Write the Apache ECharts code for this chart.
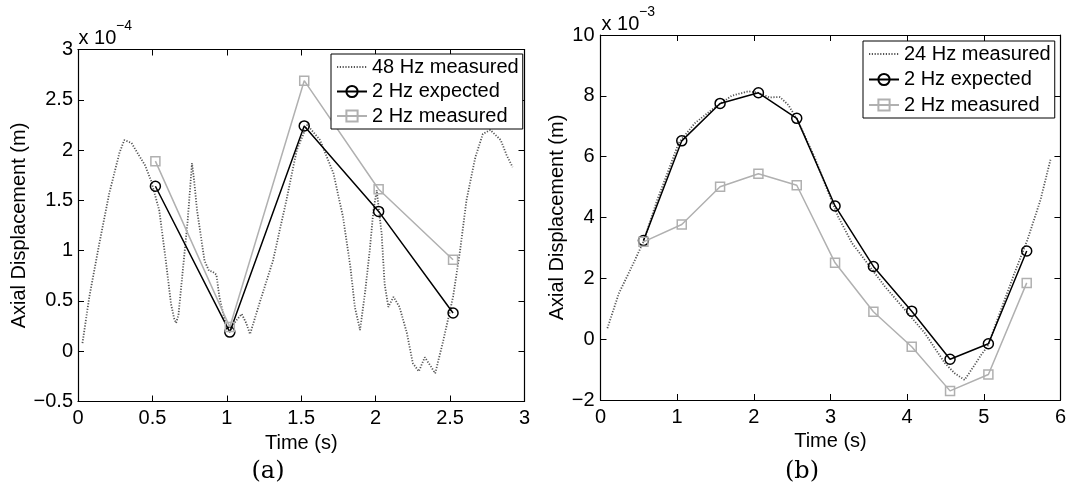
<!DOCTYPE html>
<html><head><meta charset="utf-8">
<script src="https://cdn.jsdelivr.net/npm/echarts@6/dist/echarts.min.js"></script>
<style>html,body{margin:0;padding:0;background:#fff}#c{width:1069px;height:501px}</style>
</head><body><div id="c"></div>
<script>
// ---- Panel (a): values in units of 1e-4 m ----
const aTime48 = [0.03, 0.076, 0.143, 0.21, 0.278, 0.311, 0.36, 0.40, 0.45, 0.49, 0.546, 0.59, 0.625, 0.645, 0.659, 0.675, 0.70, 0.737, 0.766, 0.78, 0.80, 0.85, 0.88, 0.905, 0.93, 0.95, 0.995, 1.02, 1.06, 1.10, 1.13, 1.156, 1.22, 1.31, 1.40, 1.47, 1.54, 1.626, 1.716, 1.78, 1.83, 1.86, 1.895, 1.93, 1.96, 1.985, 2.007, 2.04, 2.06, 2.085, 2.12, 2.16, 2.21, 2.25, 2.29, 2.33, 2.37, 2.40, 2.455, 2.52, 2.567, 2.61, 2.67, 2.72, 2.77, 2.84, 2.88, 2.92];
const aDisp48 = [0.08, 0.54, 1.07, 1.57, 1.97, 2.10, 2.07, 1.97, 1.85, 1.70, 1.40, 0.90, 0.47, 0.33, 0.28, 0.36, 0.74, 1.30, 1.87, 1.70, 1.40, 0.90, 0.80, 0.79, 0.76, 0.54, 0.25, 0.20, 0.30, 0.37, 0.28, 0.17, 0.48, 0.90, 1.50, 2.00, 2.25, 2.10, 1.77, 1.34, 0.84, 0.44, 0.21, 0.60, 1.00, 1.40, 1.60, 1.17, 0.67, 0.44, 0.54, 0.44, 0.18, -0.12, -0.20, -0.06, -0.15, -0.22, 0.11, 0.54, 1.00, 1.50, 1.93, 2.16, 2.20, 2.10, 1.95, 1.83];
const aTime2 = [0.52, 1.02, 1.52, 2.02, 2.52];
const aExpected2 = [1.64, 0.19, 2.24, 1.39, 0.38];
const aMeasured2 = [1.89, 0.24, 2.69, 1.61, 0.91];
const aXTicks = [0, 0.5, 1, 1.5, 2, 2.5, 3];
const aYTicks = [-0.5, 0, 0.5, 1, 1.5, 2, 2.5, 3];

// ---- Panel (b): values in units of 1e-3 m ----
const bTime24 = [0.09, 0.24, 0.41, 0.56, 0.74, 0.89, 1.02, 1.23, 1.45, 1.71, 1.93, 2.06, 2.2, 2.34, 2.45, 2.57, 2.79, 2.96, 3.1, 3.28, 3.45, 3.71, 3.97, 4.23, 4.49, 4.62, 4.75, 4.88, 4.97, 5.05, 5.2, 5.4, 5.57, 5.74, 5.87];
const bDisp24 = [0.36, 1.51, 2.39, 3.2, 4.58, 5.57, 6.45, 7.1, 7.54, 8.0, 8.15, 8.1, 7.95, 7.96, 7.7, 7.2, 6.0, 4.9, 4.03, 3.16, 2.6, 1.73, 0.97, 0.2, -0.78, -1.12, -1.34, -0.85, -0.5, -0.24, 0.8, 2.17, 3.27, 4.58, 5.9];
const bTime2 = [0.56, 1.06, 1.56, 2.06, 2.56, 3.06, 3.56, 4.06, 4.56, 5.06, 5.56];
const bExpected2 = [3.24, 6.52, 7.75, 8.1, 7.26, 4.38, 2.39, 0.92, -0.66, -0.15, 2.9];
const bMeasured2 = [3.2, 3.77, 5.01, 5.44, 5.06, 2.51, 0.9, -0.25, -1.7, -1.16, 1.85];
const bXTicks = [0, 1, 2, 3, 4, 5, 6];
const bYTicks = [-2, 0, 2, 4, 6, 8, 10];

const FONT = 'Liberation Sans';
const zip = (xs, ys) => xs.map((x, i) => [x, ys[i]]);
const fmt = v => String(v).replace('-', '\u2212');

function xAx(gi, ticks, pos, withLabel, name, gap) {
  return {
    type: 'value', gridIndex: gi, position: pos,
    min: ticks[0], max: ticks[ticks.length - 1], interval: ticks[1] - ticks[0],
    axisLine: { show: true, onZero: false, lineStyle: { color: '#000', width: 1.2 } },
    axisTick: { show: true, inside: true, length: 6, lineStyle: { color: '#000', width: 1 } },
    axisLabel: { show: withLabel, formatter: fmt, color: '#000', fontSize: 20, fontFamily: FONT, margin: 7 },
    splitLine: { show: false },
    name: withLabel ? name : '', nameLocation: 'middle', nameGap: gap,
    nameTextStyle: { color: '#000', fontSize: 20, fontFamily: FONT }
  };
}
function yAx(gi, ticks, pos, withLabel, name, gap, margin) {
  return {
    type: 'value', gridIndex: gi, position: pos,
    min: ticks[0], max: ticks[ticks.length - 1], interval: ticks[1] - ticks[0],
    axisLine: { show: true, onZero: false, lineStyle: { color: '#000', width: 1.2 } },
    axisTick: { show: true, inside: true, length: 6, lineStyle: { color: '#000', width: 1 } },
    axisLabel: { show: withLabel, formatter: fmt, color: '#000', fontSize: 20, fontFamily: FONT, margin: margin },
    splitLine: { show: false },
    name: withLabel ? name : '', nameLocation: 'middle', nameGap: gap, nameRotate: 90,
    nameTextStyle: { color: '#000', fontSize: 20, fontFamily: FONT }
  };
}

const dottedStyle = { color: '#555', width: 1.8, type: [1.2, 1.6] };
const blackStyle = { color: '#000', width: 1.5 };
const grayStyle = { color: '#b0b0b0', width: 1.5 };

function series(name, data, xi, yi, kind) {
  const s = { type: 'line', name: name, data: data, xAxisIndex: xi, yAxisIndex: yi, animation: false, z: 2 };
  if (kind === 'dot') {
    s.symbol = 'none'; s.lineStyle = dottedStyle;
    s.itemStyle = { color: 'rgba(0,0,0,0)', borderWidth: 0 };
  } else if (kind === 'exp') {
    s.symbol = 'circle'; s.symbolSize = 10; s.showAllSymbol = true; s.lineStyle = blackStyle;
    s.itemStyle = { color: 'rgba(0,0,0,0)', borderColor: '#000', borderWidth: 1.5 }; s.z = 3;
  } else {
    s.symbol = 'rect'; s.symbolSize = 9; s.showAllSymbol = true; s.lineStyle = grayStyle;
    s.itemStyle = { color: 'rgba(0,0,0,0)', borderColor: '#b0b0b0', borderWidth: 1.5 }; s.z = 4;
  }
  return s;
}

function legend(names, left, top, gap) {
  return {
    data: names, orient: 'vertical', left: left, top: top,
    padding: [3, 4, 3, 5], itemGap: gap, itemWidth: 30, itemHeight: 14,
    backgroundColor: '#fff', borderColor: '#000', borderWidth: 1, z: 10,
    textStyle: { color: '#000', fontSize: 20, fontFamily: FONT },
    selectedMode: false
  };
}

const chart = echarts.init(document.getElementById('c'), null, { renderer: 'canvas' });
chart.setOption({
  backgroundColor: '#fff',
  animation: false,
  grid: [
    { left: 78, top: 49.5, width: 446.5, height: 352 },
    { left: 600.5, top: 35, width: 462.5, height: 365 }
  ],
  xAxis: [
    xAx(0, aXTicks, 'bottom', true, 'Time (s)', 28),
    xAx(0, aXTicks, 'top', false),
    xAx(1, bXTicks, 'bottom', true, 'Time (s)', 29),
    xAx(1, bXTicks, 'top', false)
  ],
  yAxis: [
    yAx(0, aYTicks, 'left', true, 'Axial Displacement (m)', 47, 5),
    yAx(0, aYTicks, 'right', false),
    yAx(1, bYTicks, 'left', true, 'Axial Displacement (m)', 31, 6),
    yAx(1, bYTicks, 'right', false)
  ],
  legend: [
    legend(['48 Hz measured', '2 Hz expected', '2 Hz measured'], 331, 54, 4.5),
    legend(['24 Hz measured', '2 Hz expected', '2 Hz measured'], 863, 41, 5.5)
  ],
  series: [
    series('48 Hz measured', zip(aTime48, aDisp48), 0, 0, 'dot'),
    series('2 Hz expected', zip(aTime2, aExpected2), 0, 0, 'exp'),
    series('2 Hz measured', zip(aTime2, aMeasured2), 0, 0, 'meas'),
    series('24 Hz measured', zip(bTime24, bDisp24), 2, 2, 'dot'),
    series('2 Hz expected', zip(bTime2, bExpected2), 2, 2, 'exp'),
    series('2 Hz measured', zip(bTime2, bMeasured2), 2, 2, 'meas')
  ],
  graphic: [
    { type: 'text', left: 78.5, top: 28, style: { text: 'x 10', fontSize: 20, fontFamily: FONT, fill: '#000' } },
    { type: 'text', left: 116, top: 19, style: { text: '\u22124', fontSize: 14, fontFamily: FONT, fill: '#000' } },
    { type: 'text', left: 601.5, top: 14, style: { text: 'x 10', fontSize: 20, fontFamily: FONT, fill: '#000' } },
    { type: 'text', left: 639, top: 5, style: { text: '\u22123', fontSize: 14, fontFamily: FONT, fill: '#000' } },
    { type: 'text', x: 268, y: 472, style: { text: '(a)', fontSize: 24, fontFamily: 'DejaVu Serif', fill: '#000', align: 'center', verticalAlign: 'middle' } },
    { type: 'text', x: 802, y: 472, style: { text: '(b)', fontSize: 24, fontFamily: 'DejaVu Serif', fill: '#000', align: 'center', verticalAlign: 'middle' } }
  ]
});
</script></body></html>
